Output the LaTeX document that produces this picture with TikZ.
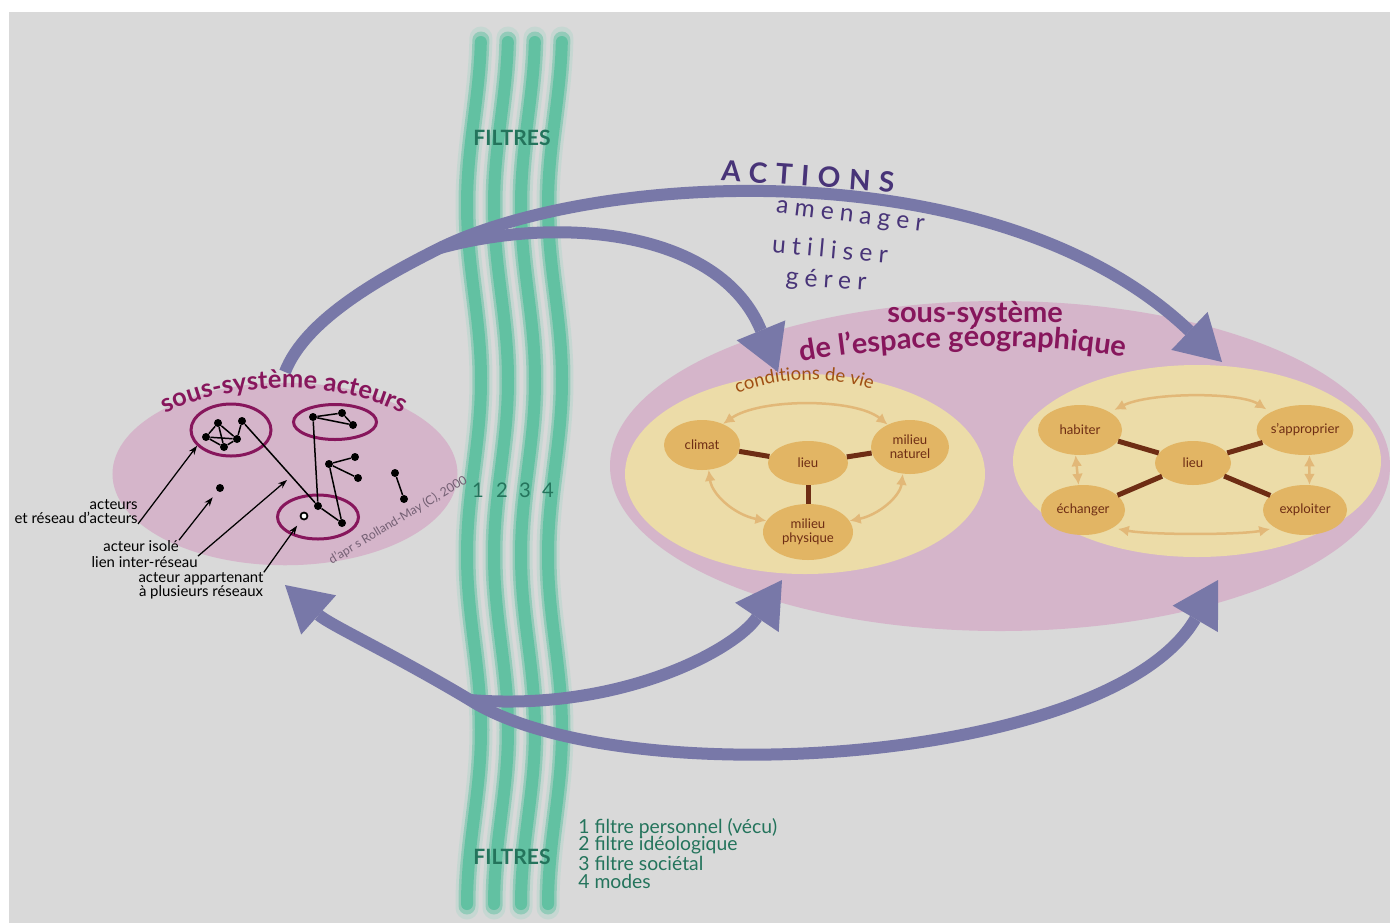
\documentclass[tikz,border=0pt]{standalone}
\usepackage{fontspec}
\setmainfont{Lato}
\usepackage{tikz}
\usetikzlibrary{positioning}
\usetikzlibrary{shapes.geometric,arrows.meta,decorations.text}
\definecolor{fond}{RGB}{217,217,217}
\definecolor{rose}{RGB}{213,181,202}
\definecolor{creme}{RGB}{236,220,168}
\definecolor{ocre}{RGB}{226,181,100}
\definecolor{brun}{RGB}{110,45,20}
\definecolor{brunclair}{RGB}{226,184,120}
\definecolor{orangebrun}{RGB}{160,80,20}
\definecolor{titre}{RGB}{135,22,92}
\definecolor{fleche}{RGB}{120,120,168}
\definecolor{violet}{RGB}{72,52,120}
\definecolor{vert}{RGB}{98,193,162}
\definecolor{vertfonce}{RGB}{36,116,92}
\definecolor{signature}{RGB}{115,95,115}
\tikzstyle{sys} = [ellipse, fill=rose, inner sep=0pt]
\tikzstyle{sous} = [ellipse, fill=creme, inner sep=0pt]
\tikzstyle{pole} = [ellipse, fill=ocre, text=brun, inner sep=0pt, align=center, font=\fontsize{7.5}{8}\selectfont]
\tikzstyle{acteur} = [circle, fill=black, inner sep=0pt, minimum size=1.6mm]
\tikzstyle{multi} = [circle, draw=black, fill=white, line width=0.35mm, inner sep=0pt, minimum size=1.4mm]
\tikzstyle{reseau} = [ellipse, draw=titre, line width=0.6mm, inner sep=0pt]
\tikzstyle{lien} = [draw=brun, line width=1mm]
\tikzstyle{echange} = [draw=brunclair, line width=0.5mm, {Latex[length=2.2mm,width=2.2mm]}-{Latex[length=2.2mm,width=2.2mm]}]
\tikzstyle{action} = [draw=fleche, line width=2.4mm, -{Triangle[length=9mm,width=10.5mm,line width=0pt]}]
\tikzstyle{retour} = [action, {Triangle[length=9mm,width=10.5mm,line width=0pt]}-{Triangle[length=9mm,width=10.5mm,line width=0pt]}]
\tikzstyle{pointeur} = [draw=black, line width=0.25mm, -{Stealth[length=1.8mm,width=1.3mm]}]
\tikzstyle{legende} = [text=black, align=right, inner sep=0pt, font=\fontsize{8.5}{8}\selectfont]
\tikzstyle{filtre} = [text=vertfonce, font=\fontsize{12}{13}\selectfont\bfseries]
\tikzstyle{verbe} = [text=violet, font=\fontsize{14}{16}\selectfont\addfontfeature{LetterSpace=25,Ligatures=NoCommon}]

\begin{document}
\begin{tikzpicture}[x=0.2mm,y=-0.2mm]
    \useasboundingbox (0,0) rectangle (1390,923);
    \fill[fond] (9,12) rectangle (1390,923);
    \foreach \xo in {474,501,528,555} {
        \draw[vert!70, line width=4.6mm, opacity=0.25, line cap=round] plot[domain=38:908, samples=60, smooth] ({\xo+7*cos((\x-380)*1.0286)}, \x);
        \draw[vert, line width=3.4mm, opacity=0.5, line cap=round] plot[domain=40:906, samples=60, smooth] ({\xo+7*cos((\x-380)*1.0286)}, \x);
        \draw[vert, line width=2.4mm, line cap=round] plot[domain=42:904, samples=60, smooth] ({\xo+7*cos((\x-380)*1.0286)}, \x);
    }
    \node (filtreH) [filtre] at (512,138) {FILTRES};
    \node (filtreB) [filtre] at (512,857) {FILTRES};
    \foreach \n/\px in {1/478,2/502,3/525,4/548}
        \node (f\n) [filtre, font=\fontsize{11.5}{12}\selectfont] at (\px,490) {\n};
    \node (cles) [text=vertfonce, align=left, anchor=north west, inner sep=0pt, font=\fontsize{11}{10}\selectfont] at (578,818) {1 filtre personnel (vécu)\\2 filtre idéologique\\3 filtre sociétal\\4 modes};

    \node (acteurs) [sys, minimum width=69mm, minimum height=36.5mm] at (285,474) {};
    \node (espace) [sys, minimum width=156mm, minimum height=66mm] at (1000,466) {};
    \node (vie) [sous, minimum width=72mm, minimum height=40mm] at (805,474) {};
    \node (usage) [sous, minimum width=73.6mm, minimum height=38.4mm] at (1197,461) {};

    \path[decorate, decoration={text along path, text align=center, text={|\fontsize{14.5}{15}\selectfont\bfseries\color{titre}|sous-système acteurs}}] (146,426) .. controls (208,378) and (352,373) .. (422,426);
    \node (geo1) [text=titre, font=\fontsize{16.5}{17}\selectfont\bfseries, anchor=base] at (975,322) {sous-système};
    \path[decorate, decoration={text along path, text align=center, text={|\fontsize{16.5}{17}\selectfont\bfseries\color{titre}|de l'espace géographique}}] (760,370) .. controls (875,342) and (1065,337) .. (1165,367);
    \path[decorate, decoration={text along path, text align=center, text={|\fontsize{10.5}{12}\selectfont\color{orangebrun}|conditions de vie}}] (720,402) .. controls (765,375) and (840,372) .. (890,397);
    \node (source) [text=signature, rotate=31, font=\fontsize{7}{8}\selectfont] at (398,520) {d'apr s Rolland-May (C), 2000};

    \node (climat) [pole, minimum width=15.2mm, minimum height=10mm] at (702,445) {climat};
    \node (lieuA) [pole, minimum width=16mm, minimum height=8.8mm] at (808,463) {lieu};
    \node (naturel) [pole, minimum width=15.6mm, minimum height=10.8mm] at (910,447) {milieu\\naturel};
    \node (physique) [pole, minimum width=18mm, minimum height=11.2mm] at (808,532) {milieu\\physique};
    \draw[lien] (lieuA) -- (climat);
    \draw[lien] (lieuA) -- (naturel);
    \draw[lien] (lieuA) -- (physique);
    \draw[echange] (climat.45) .. controls (760,398) and (855,398) .. (naturel.135);
    \draw[echange] (climat.-75) .. controls (712,495) and (735,515) .. (physique.165);
    \draw[echange] (naturel.-105) .. controls (900,497) and (878,515) .. (physique.15);

    \node (habiter) [pole, minimum width=16.8mm, minimum height=10mm] at (1080,430) {habiter};
    \node (appro) [pole, minimum width=17.2mm, minimum height=10mm] at (1305,430) {s'approprier};
    \node (lieuB) [pole, minimum width=15.2mm, minimum height=8.8mm] at (1193,463) {lieu};
    \node (echanger) [pole, minimum width=16.8mm, minimum height=10mm] at (1083,510) {échanger};
    \node (exploiter) [pole, minimum width=16.8mm, minimum height=10mm] at (1305,510) {exploiter};
    \draw[lien] (lieuB) -- (habiter);
    \draw[lien] (lieuB) -- (appro);
    \draw[lien] (lieuB) -- (echanger);
    \draw[lien] (lieuB) -- (exploiter);
    \draw[echange, shorten <=1mm, shorten >=1mm] (habiter.north east) .. controls (1150,392) and (1240,392) .. (appro.north west);
    \draw[echange, shorten <=1mm, shorten >=1mm] (echanger.south east) .. controls (1150,535) and (1240,535) .. (exploiter.south west);
    \draw[echange] (habiter.-100) -- (echanger.100);
    \draw[echange] (appro.-80) -- (exploiter.80);

    \node (c1) [reseau, minimum width=16mm, minimum height=10.4mm] at (231,430) {};
    \node (c2) [reseau, minimum width=16.6mm, minimum height=7mm] at (335,422) {};
    \node (c3) [reseau, minimum width=16.2mm, minimum height=8.8mm] at (318,517) {};
    \node (p1) [acteur] at (206,437) {};
    \node (p2) [acteur] at (218,423) {};
    \node (p3) [acteur] at (242,421) {};
    \node (p4) [acteur] at (237,439) {};
    \node (p5) [acteur] at (224,447) {};
    \node (r1) [acteur] at (313,417) {};
    \node (r2) [acteur] at (342,413) {};
    \node (r3) [acteur] at (353,425) {};
    \node (m1) [acteur] at (329,464) {};
    \node (m2) [acteur] at (355,457) {};
    \node (m3) [acteur] at (358,478) {};
    \node (n1) [acteur] at (395,473) {};
    \node (n2) [acteur] at (404,499) {};
    \node (iso) [acteur] at (220,488) {};
    \node (q1) [acteur] at (318,506) {};
    \node (q2) [acteur] at (342,523) {};
    \node (q3) [multi] at (304,516) {};
    \draw[line width=0.3mm] (p1) -- (p2) -- (p4) -- (p5) -- (p1) -- (p4);
    \draw[line width=0.3mm] (p2) -- (p5);
    \draw[line width=0.3mm] (p4) -- (p3) -- (q1) -- (q2) -- (m1) -- (m2);
    \draw[line width=0.3mm] (m1) -- (m3);
    \draw[line width=0.3mm] (q1) -- (r1) -- (r2) -- (r3) -- (r1);
    \draw[line width=0.3mm] (n1) -- (n2);

    \node (lab1) [legende, anchor=north east] at (138,499) {acteurs\\et réseau d'acteurs};
    \node (lab2) [legende, anchor=east] at (179,546) {acteur isolé};
    \node (lab3) [legende, anchor=east] at (198,562) {lien inter-réseau};
    \node (lab4) [legende, align=center] at (201,586) {acteur appartenant\\à plusieurs réseaux};
    \coordinate (pinter) at (287,480);
    \draw[pointeur] (lab1.south east) -- (c1.205);
    \draw[pointeur, shorten >=1.5mm] (lab2.north east) -- (iso);
    \draw[pointeur] (lab3.north east) -- (pinter);
    \draw[pointeur, shorten >=1.5mm] (lab4.north east) -- (q3);

    \coordinate (dep) at (285,372);
    \coordinate (jh) at (440,248);
    \coordinate (ph) at (778,372);
    \coordinate (qh) at (1222,362);
    \coordinate (jb) at (470,700);
    \coordinate (pg) at (285,585);
    \coordinate (pb) at (782,580);
    \coordinate (qb) at (1218,580);
    \draw[action] (dep) .. controls (305,320) and (380,278) .. (jh) .. controls (600,170) and (1000,150) .. (qh);
    \draw[action] (jh) .. controls (560,215) and (720,230) .. (ph);
    \draw[retour] (pg) .. controls (330,625) and (395,655) .. (jb) .. controls (620,795) and (1110,765) .. (qb);
    \draw[action] (jb) .. controls (620,712) and (735,650) .. (pb);

    \node (actions) [text=violet, rotate=-4, font=\fontsize{16}{18}\selectfont\bfseries\addfontfeature{LetterSpace=30}] at (808,176) {ACTIONS};
    \node (amenager) [verbe, rotate=-7] at (850,218) {amenager};
    \node (utiliser) [verbe, rotate=-5] at (830,249) {utiliser};
    \node (gerer) [verbe, rotate=-4] at (826,281) {gérer};
\end{tikzpicture}
\end{document}
